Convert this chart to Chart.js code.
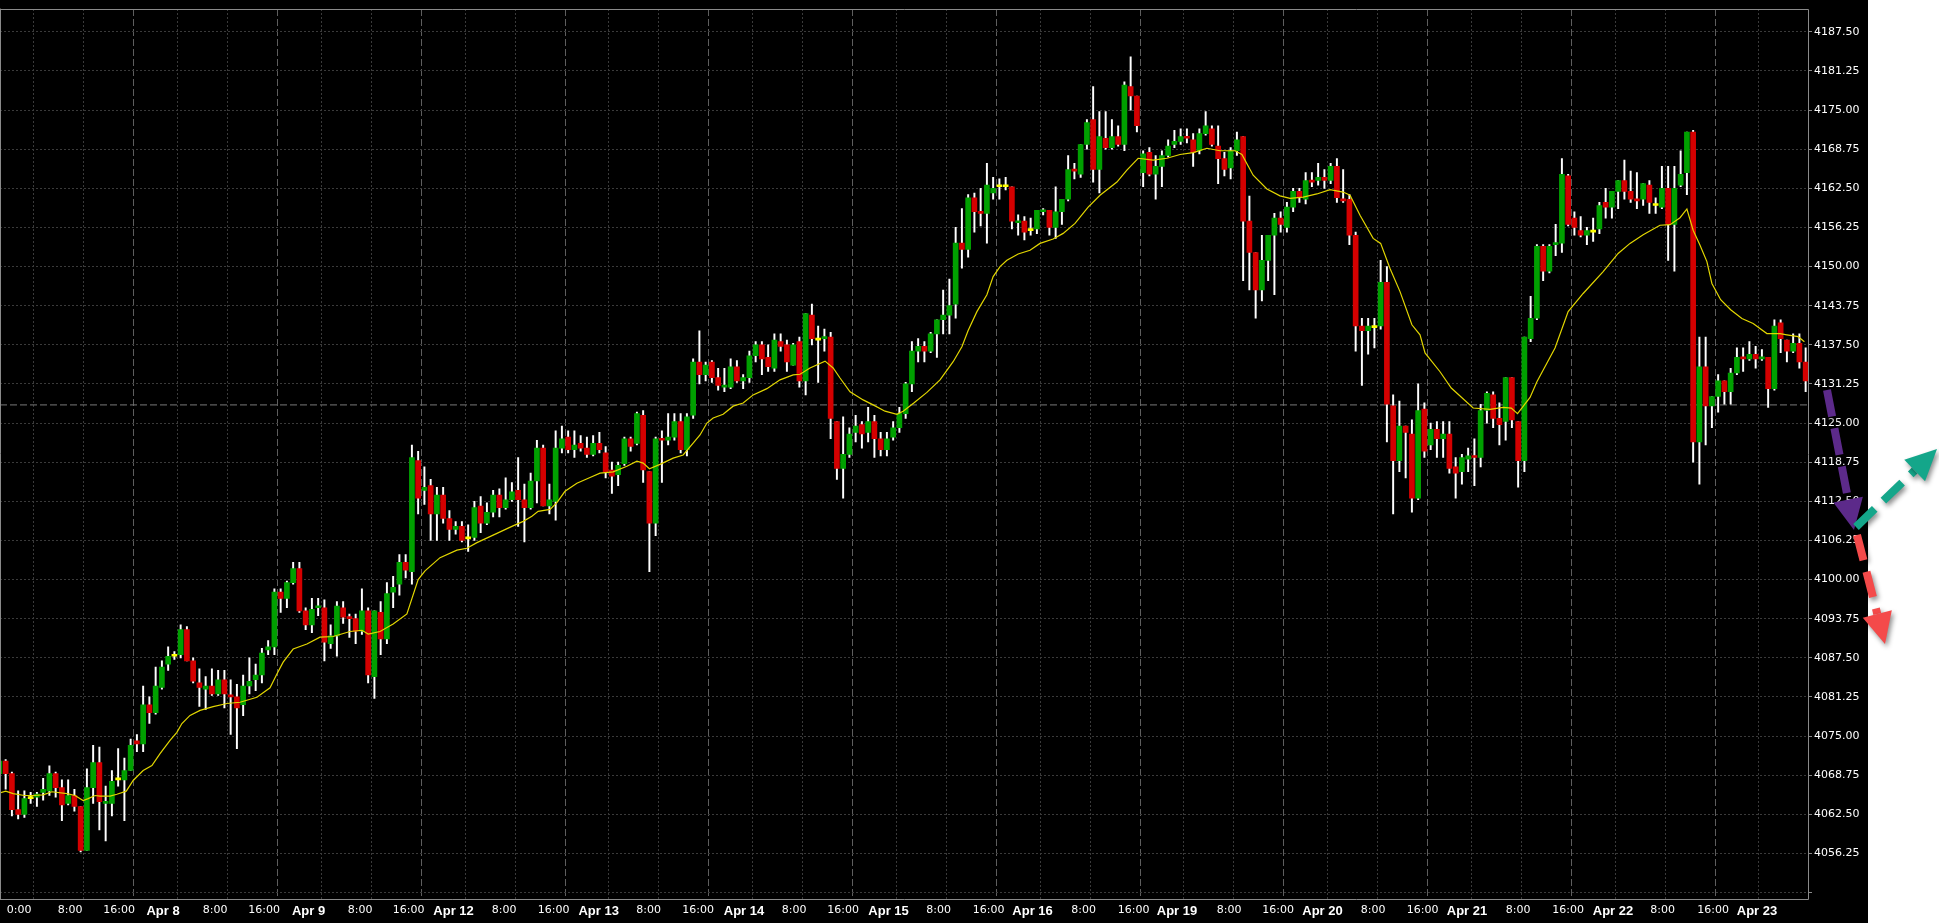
<!DOCTYPE html>
<html>
<head>
<meta charset="utf-8">
<script src="https://cdn.jsdelivr.net/npm/chart.js@4.4.1/dist/chart.umd.min.js"></script>
<style>
  html, body { margin: 0; padding: 0; background: #fff; }
  #wrap { width: 1939px; height: 923px; }
</style>
</head>
<body>
<div id="wrap"><canvas id="chart" width="1939" height="923"></canvas></div>
<script>
// hourly candles, bar 0 = first visible bar on Apr 7
const open = [
  4069.0, 4071.0, 4069.0, 4063.25, 4062.5, 4065.0, 4065.25, 4066.0, 4066.25, 4069.0,
  4066.75, 4064.25, 4065.5, 4063.75, 4056.75, 4066.75, 4070.75, 4064.25, 4064.25, 4068.0,
  4068.0, 4069.5, 4074.25, 4073.75, 4080.0, 4078.75, 4082.75, 4086.5, 4087.75, 4088.0,
  4092.0, 4087.0, 4083.5, 4082.5, 4083.0, 4081.75, 4084.0, 4081.5, 4081.25, 4080.0,
  4083.0, 4084.0, 4084.75, 4088.75, 4089.25, 4098.0, 4097.0, 4099.5, 4101.75, 4095.0,
  4092.75, 4095.5, 4095.5, 4089.75, 4091.0, 4095.5, 4094.0, 4093.75, 4091.75, 4095.0,
  4084.5, 4094.75, 4090.5, 4098.0, 4099.25, 4102.75, 4101.25, 4119.0, 4114.25, 4115.0,
  4110.5, 4113.5, 4109.75, 4108.0, 4108.5, 4106.5, 4106.75, 4111.75, 4109.0, 4110.75,
  4113.5, 4111.5, 4112.75, 4114.25, 4112.75, 4111.5, 4115.75, 4121.0, 4111.75, 4112.5,
  4121.0, 4122.75, 4120.75, 4121.75, 4121.0, 4120.0, 4121.75, 4120.25, 4117.5, 4116.75,
  4118.5, 4122.5, 4121.75, 4126.25, 4117.25, 4109.0, 4122.5, 4122.25, 4122.75, 4125.25,
  4120.75, 4126.25, 4134.75, 4132.75, 4134.75, 4132.25, 4130.75, 4130.75, 4134.0, 4131.75,
  4132.25, 4135.75, 4137.5, 4135.5, 4133.75, 4138.0, 4137.5, 4134.25, 4138.0, 4131.75,
  4142.25, 4138.25, 4138.5, 4138.75, 4125.25, 4117.75, 4120.0, 4123.5, 4124.75, 4123.5,
  4125.25, 4122.5, 4120.75, 4122.75, 4124.25, 4126.5, 4131.25, 4136.5, 4137.25, 4136.5,
  4139.25, 4141.5, 4142.25, 4144.0, 4153.75, 4152.75, 4161.0, 4158.75, 4158.5, 4161.75,
  4162.75, 4162.75, 4162.75, 4157.0, 4157.25, 4155.75, 4156.0, 4158.75, 4159.0, 4156.25,
  4158.75, 4160.75, 4165.5, 4164.75, 4169.5, 4173.5, 4165.5, 4170.5, 4169.0, 4170.75,
  4169.5, 4178.75, 4177.25, 4165.0, 4168.25, 4164.75, 4166.0, 4167.75, 4169.5, 4170.0,
  4170.75, 4170.25, 4168.5, 4171.25, 4172.0, 4169.25, 4167.25, 4165.75, 4168.5, 4170.75,
  4157.25, 4152.25, 4146.25, 4151.0, 4155.0, 4157.75, 4156.25, 4159.5, 4162.0, 4160.75,
  4163.75, 4163.75, 4164.25, 4163.75, 4166.0, 4160.75, 4160.75, 4155.0, 4140.5, 4139.75,
  4140.25, 4140.5, 4147.5, 4127.75, 4119.0, 4124.5, 4123.25, 4113.0, 4127.25, 4121.5,
  4124.0, 4122.5, 4123.25, 4118.0, 4117.25, 4119.25, 4119.75, 4119.5, 4127.0, 4129.5,
  4125.75, 4125.25, 4132.25, 4125.25, 4119.0, 4138.5, 4141.75, 4153.25, 4149.25, 4153.5,
  4153.75, 4164.5, 4157.75, 4155.75, 4155.0, 4155.5, 4156.0, 4160.25, 4159.5, 4162.0,
  4163.75, 4162.0, 4160.75, 4160.75, 4163.0, 4159.75, 4159.5, 4162.5, 4156.75, 4163.0,
  4165.0, 4171.5, 4122.0, 4134.0, 4127.75, 4129.25, 4131.75, 4130.0, 4133.0, 4135.5,
  4135.25, 4136.0, 4135.25, 4135.5, 4130.5, 4141.0, 4138.25, 4136.5, 4137.75, 4134.75
];
const high = [
  4071.25, 4071.25, 4069.25, 4066.25, 4066.25, 4066.0, 4066.0, 4068.25, 4070.25, 4069.25,
  4068.0, 4068.0, 4066.5, 4063.75, 4069.75, 4073.5, 4073.25, 4067.0, 4069.5, 4073.0,
  4071.5, 4074.5, 4075.25, 4083.0, 4081.25, 4086.0, 4087.0, 4089.25, 4088.5, 4092.75,
  4092.5, 4087.5, 4085.75, 4084.5, 4085.75, 4085.5, 4085.5, 4084.0, 4083.25, 4084.75,
  4087.5, 4086.5, 4089.0, 4090.25, 4098.5, 4098.5, 4099.75, 4102.75, 4102.75, 4095.5,
  4097.0, 4097.0, 4096.75, 4092.75, 4096.5, 4096.5, 4094.5, 4094.5, 4098.5, 4095.5,
  4095.0, 4096.5, 4099.5, 4100.5, 4104.0, 4104.0, 4121.5, 4120.5, 4118.0, 4116.0,
  4114.75, 4114.75, 4111.0, 4109.25, 4109.25, 4108.75, 4112.5, 4113.25, 4112.25, 4114.25,
  4114.5, 4116.25, 4115.5, 4119.5, 4115.25, 4117.0, 4122.25, 4121.5, 4115.25, 4123.75,
  4124.5, 4123.75, 4123.75, 4123.0, 4122.75, 4123.0, 4123.5, 4121.25, 4118.75, 4118.75,
  4122.75, 4122.75, 4126.75, 4127.0, 4117.25, 4122.75, 4123.75, 4126.5, 4126.5, 4126.5,
  4126.5, 4135.25, 4139.75, 4134.75, 4135.0, 4133.75, 4133.75, 4135.25, 4135.0, 4132.75,
  4136.5, 4138.0, 4138.0, 4137.5, 4139.25, 4139.25, 4138.25, 4137.75, 4138.75, 4142.5,
  4144.0, 4140.5, 4140.0, 4139.5, 4125.25, 4126.0, 4124.25, 4126.25, 4125.25, 4127.5,
  4126.25, 4123.5, 4123.5, 4125.25, 4127.5, 4131.5, 4138.0, 4138.5, 4138.0, 4139.5,
  4141.5, 4146.25, 4148.0, 4156.25, 4159.25, 4161.5, 4161.75, 4162.5, 4166.5, 4164.25,
  4164.0, 4164.25, 4162.75, 4158.25, 4158.0, 4157.75, 4159.0, 4159.25, 4159.0, 4162.75,
  4160.75, 4167.75, 4166.5, 4169.5, 4173.5, 4178.75, 4174.75, 4174.75, 4173.5, 4172.5,
  4179.5, 4183.5, 4177.25, 4168.5, 4169.0, 4167.75, 4168.5, 4170.25, 4171.75, 4172.0,
  4172.0, 4171.25, 4172.0, 4174.75, 4172.5, 4172.5, 4168.25, 4169.0, 4171.5, 4170.75,
  4161.25, 4152.25, 4155.0, 4155.0, 4158.5, 4158.75, 4160.25, 4162.5, 4162.5, 4165.0,
  4165.0, 4166.5, 4165.5, 4166.5, 4167.25, 4165.5, 4161.5, 4155.5, 4141.75, 4141.75,
  4141.75, 4151.0, 4150.0, 4129.5, 4128.5, 4124.5, 4125.5, 4131.25, 4128.25, 4125.0,
  4125.25, 4125.25, 4125.25, 4119.5, 4120.0, 4121.0, 4122.5, 4128.0, 4130.0, 4130.0,
  4128.25, 4132.25, 4132.25, 4125.25, 4138.75, 4145.25, 4153.5, 4153.5, 4153.5, 4156.75,
  4167.25, 4164.75, 4158.75, 4158.0, 4156.25, 4157.75, 4160.25, 4162.5, 4162.0, 4163.75,
  4167.0, 4165.25, 4165.0, 4163.25, 4163.75, 4161.0, 4166.0, 4166.0, 4166.0, 4168.5,
  4171.5, 4171.75, 4138.75, 4138.75, 4129.25, 4132.75, 4131.75, 4133.75, 4137.0, 4137.0,
  4138.0, 4137.25, 4136.75, 4135.5, 4141.5, 4141.5, 4138.25, 4139.25, 4139.25, 4137.0
];
const low = [
  4067.75, 4066.5, 4062.25, 4061.75, 4062.0, 4064.25, 4063.75, 4064.75, 4065.5, 4065.25,
  4061.5, 4064.0, 4063.0, 4056.5, 4056.75, 4064.25, 4060.0, 4058.25, 4062.25, 4067.0,
  4061.5, 4069.5, 4072.5, 4072.5, 4077.0, 4078.5, 4082.5, 4085.5, 4087.25, 4087.5,
  4087.0, 4083.5, 4079.75, 4079.25, 4081.5, 4081.5, 4079.5, 4075.25, 4073.0, 4078.25,
  4081.75, 4082.25, 4083.5, 4088.0, 4088.0, 4094.75, 4095.5, 4099.25, 4094.75, 4092.0,
  4091.5, 4094.25, 4087.0, 4089.0, 4087.75, 4093.0, 4090.75, 4089.75, 4091.25, 4083.5,
  4081.0, 4088.0, 4089.75, 4095.5, 4097.5, 4100.25, 4099.25, 4110.5, 4112.0, 4106.25,
  4106.25, 4109.0, 4106.25, 4107.25, 4106.0, 4104.5, 4106.25, 4107.5, 4108.75, 4110.0,
  4110.0, 4111.25, 4112.5, 4108.5, 4106.0, 4111.25, 4112.25, 4111.75, 4110.5, 4109.5,
  4120.25, 4120.25, 4119.5, 4120.5, 4119.5, 4119.75, 4120.25, 4116.25, 4113.75, 4115.0,
  4118.25, 4120.5, 4121.5, 4115.5, 4101.25, 4107.0, 4115.5, 4121.5, 4122.25, 4120.25,
  4119.75, 4125.75, 4131.25, 4131.75, 4131.5, 4130.25, 4130.0, 4130.5, 4131.5, 4130.5,
  4131.5, 4134.75, 4132.75, 4133.25, 4133.25, 4136.5, 4133.25, 4134.25, 4130.75, 4129.5,
  4137.5, 4131.5, 4136.5, 4122.5, 4116.0, 4113.0, 4119.5, 4122.0, 4121.0, 4122.0,
  4119.5, 4119.75, 4119.75, 4122.25, 4123.5, 4125.75, 4130.0, 4134.75, 4134.75, 4136.25,
  4135.5, 4139.25, 4139.25, 4141.75, 4149.75, 4151.5, 4155.5, 4156.5, 4153.75, 4160.75,
  4160.75, 4162.25, 4156.0, 4155.0, 4154.25, 4155.0, 4155.25, 4158.25, 4155.0, 4154.5,
  4156.75, 4160.5, 4164.0, 4164.25, 4168.75, 4163.5, 4161.75, 4168.75, 4168.75, 4169.25,
  4168.5, 4175.0, 4171.5, 4162.75, 4164.5, 4160.75, 4162.75, 4167.5, 4169.0, 4169.5,
  4169.75, 4166.0, 4168.0, 4171.0, 4169.25, 4163.25, 4164.5, 4164.0, 4167.75, 4147.75,
  4146.25, 4141.75, 4144.5, 4147.75, 4145.5, 4155.5, 4155.5, 4158.75, 4160.25, 4160.0,
  4162.75, 4163.0, 4162.5, 4163.25, 4160.25, 4160.25, 4153.5, 4136.5, 4131.0, 4136.0,
  4137.0, 4140.0, 4122.0, 4110.5, 4117.25, 4116.25, 4110.75, 4112.75, 4119.5, 4120.75,
  4119.5, 4119.5, 4117.0, 4113.0, 4115.25, 4117.25, 4115.0, 4118.0, 4125.0, 4124.25,
  4121.5, 4122.25, 4124.25, 4114.75, 4117.25, 4138.0, 4141.5, 4147.75, 4149.0, 4151.75,
  4152.25, 4156.5, 4155.0, 4154.75, 4153.5, 4154.0, 4155.25, 4157.75, 4157.75, 4159.25,
  4160.75, 4160.25, 4159.25, 4159.75, 4158.5, 4158.5, 4159.25, 4151.0, 4149.25, 4162.75,
  4161.5, 4118.75, 4115.25, 4121.5, 4124.25, 4126.75, 4128.0, 4128.0, 4132.75, 4133.25,
  4135.0, 4133.75, 4135.0, 4127.5, 4130.25, 4136.25, 4134.75, 4136.25, 4133.75, 4130.0
];
const close = [
  4071.0, 4069.0, 4063.25, 4062.5, 4065.0, 4065.0, 4065.75, 4066.5, 4069.0, 4066.75,
  4064.0, 4065.5, 4063.75, 4056.75, 4066.75, 4070.75, 4064.5, 4064.5, 4067.75, 4068.0,
  4069.5, 4073.5, 4073.75, 4080.0, 4078.75, 4083.0, 4086.0, 4087.75, 4087.75, 4092.0,
  4087.0, 4083.75, 4082.75, 4083.0, 4081.75, 4084.0, 4081.75, 4081.25, 4079.5, 4083.0,
  4083.75, 4084.75, 4088.25, 4089.25, 4098.0, 4097.0, 4099.5, 4101.75, 4095.0, 4092.75,
  4095.25, 4095.75, 4090.0, 4091.0, 4095.75, 4094.0, 4093.75, 4091.75, 4095.0, 4084.75,
  4095.0, 4090.5, 4097.75, 4098.75, 4102.75, 4101.5, 4119.5, 4113.0, 4114.75, 4110.5,
  4113.5, 4109.75, 4108.0, 4108.5, 4106.25, 4106.5, 4111.5, 4109.0, 4110.75, 4113.5,
  4111.5, 4112.75, 4114.0, 4112.75, 4111.5, 4115.75, 4121.0, 4111.75, 4112.75, 4121.0,
  4122.5, 4120.75, 4121.5, 4121.0, 4120.0, 4121.75, 4120.75, 4117.25, 4116.5, 4118.25,
  4122.5, 4121.25, 4126.5, 4117.5, 4109.0, 4122.5, 4122.25, 4122.75, 4125.25, 4120.75,
  4126.0, 4134.75, 4132.75, 4134.25, 4132.25, 4131.0, 4131.0, 4134.0, 4131.75, 4132.25,
  4135.75, 4137.5, 4135.25, 4134.0, 4138.25, 4137.25, 4134.75, 4137.5, 4131.75, 4142.5,
  4138.5, 4138.25, 4138.75, 4125.75, 4117.75, 4120.0, 4123.25, 4124.5, 4123.25, 4125.25,
  4122.5, 4120.75, 4122.5, 4124.25, 4126.5, 4131.25, 4136.5, 4137.25, 4136.5, 4139.25,
  4141.5, 4142.25, 4143.75, 4153.75, 4152.75, 4161.0, 4158.75, 4158.5, 4163.0, 4162.5,
  4162.75, 4162.75, 4157.25, 4157.25, 4155.5, 4155.75, 4159.0, 4159.0, 4156.25, 4158.75,
  4160.75, 4165.5, 4165.25, 4169.5, 4173.0, 4165.5, 4170.75, 4169.0, 4170.75, 4169.5,
  4179.0, 4177.25, 4172.5, 4168.0, 4164.75, 4166.0, 4167.75, 4169.25, 4170.0, 4170.75,
  4170.5, 4168.25, 4171.25, 4172.5, 4169.5, 4167.25, 4165.5, 4168.5, 4170.25, 4157.25,
  4152.25, 4146.25, 4151.0, 4155.0, 4157.75, 4156.75, 4159.5, 4162.0, 4161.0, 4163.75,
  4163.5, 4164.25, 4163.75, 4166.0, 4161.0, 4160.5, 4155.0, 4140.5, 4139.75, 4140.5,
  4140.25, 4147.5, 4128.0, 4119.0, 4124.5, 4123.5, 4113.0, 4127.0, 4120.5, 4124.0,
  4122.5, 4123.25, 4117.75, 4117.0, 4119.5, 4119.75, 4119.5, 4127.0, 4129.75, 4125.75,
  4124.75, 4132.25, 4125.5, 4119.0, 4138.75, 4141.75, 4153.25, 4149.25, 4153.25, 4153.75,
  4164.75, 4156.75, 4156.25, 4155.0, 4155.75, 4155.5, 4159.75, 4159.5, 4162.0, 4163.75,
  4162.0, 4160.75, 4160.5, 4163.25, 4160.25, 4159.75, 4162.5, 4156.75, 4162.5, 4164.75,
  4171.5, 4122.0, 4134.0, 4127.75, 4129.25, 4131.75, 4130.0, 4133.0, 4135.5, 4135.25,
  4136.0, 4135.25, 4135.5, 4130.5, 4140.5, 4138.5, 4136.5, 4137.75, 4134.75, 4131.75
];

// yellow moving average at these bar positions
const maBar = [
  0, 1, 2.2, 4, 5.4, 7, 8.4, 10.8, 12.1, 13.4, 14.2, 15.3, 16.1, 17.7, 18.8, 20.3, 21.4, 23, 24.4, 25.7,
  27.3, 28.4, 29.2, 30.5, 32.1, 34.2, 36.4, 38.5, 41.2, 43.3, 44.4, 45.4, 47, 49.2, 51.3, 53.4, 56.1, 58, 59, 60.9,
  63, 65.2, 67, 68.1, 70.5, 73.2, 74.8, 76.4, 79, 82, 83.8, 85.2, 86.2, 88.1, 89.2, 90.5, 92.4, 94.5, 96.1, 98.2,
  100.4, 102, 103, 104, 105.7, 107.8, 109.4, 111, 112.1, 113.2, 114.2, 115.8, 117.4, 119, 120.6, 122.8, 124.9, 127, 128.1, 129.7,
  132.1, 133.4, 134.5, 136.1, 138.2, 139.8, 141.7, 143.6, 144.6, 146.3, 148.4, 150.5, 152.6, 154, 155, 156.4, 158, 159, 160.1, 161.2,
  163, 164.9, 166.5, 168.6, 170.2, 172.1, 174.2, 176.1, 178.8, 180.4, 182.2, 184.6, 186.8, 188.9, 191, 193.2, 195.3, 197.7, 198.8, 200.6,
  202.8, 204.9, 206.5, 208.6, 210.8, 212.9, 215, 216.1, 217.7, 219.8, 221, 222.5, 224.1, 226, 227.3, 228.1, 230.5, 232.3, 235.8, 238.5,
  240.6, 241.9, 242.9, 244.9, 246, 248.9, 251, 253.4, 256.6, 259, 260.9, 263, 265.7, 267.3, 268.9, 270, 271, 272.1, 273.2, 274,
  275.4, 277, 278.8, 280.6, 282.8, 284.9, 286, 287.8, 288.8
];
const maValue = [
  4065.9, 4066.2, 4065.8, 4065.5, 4065.5, 4065.6, 4066.1, 4065.8, 4065.5, 4064.7, 4065.0, 4065.5, 4065.4, 4065.4, 4065.7, 4066.2, 4067.9, 4069.5, 4070.3, 4072.2,
  4074.3, 4075.6, 4077.0, 4078.3, 4079.1, 4079.7, 4080.2, 4080.4, 4081.2, 4082.7, 4084.9, 4086.8, 4088.9, 4089.7, 4090.8, 4090.9, 4091.7, 4091.9, 4091.3, 4091.7,
  4092.9, 4094.5, 4100.0, 4101.4, 4103.5, 4104.7, 4105.0, 4105.9, 4107.1, 4108.5, 4109.3, 4110.1, 4110.9, 4111.2, 4112.3, 4114.1, 4115.4, 4116.3, 4117.0, 4117.2,
  4118.1, 4118.9, 4118.6, 4117.7, 4118.4, 4119.4, 4119.9, 4121.8, 4123.1, 4125.0, 4125.8, 4126.4, 4127.7, 4128.2, 4129.5, 4130.5, 4131.9, 4132.7, 4132.8, 4133.8,
  4134.9, 4133.8, 4132.2, 4130.0, 4128.7, 4127.9, 4126.9, 4126.4, 4126.9, 4128.2, 4129.9, 4131.9, 4134.8, 4137.2, 4139.8, 4142.8, 4145.5, 4148.4, 4150.0, 4151.0,
  4152.0, 4152.6, 4153.7, 4154.4, 4155.3, 4156.9, 4159.5, 4161.4, 4163.5, 4165.4, 4167.3, 4167.0, 4167.3, 4167.9, 4168.2, 4168.9, 4168.5, 4168.5, 4167.9, 4164.6,
  4162.4, 4161.3, 4160.9, 4161.1, 4161.6, 4162.3, 4161.9, 4161.4, 4158.2, 4154.5, 4153.7, 4149.7, 4146.0, 4140.7, 4139.1, 4136.2, 4133.2, 4130.6, 4127.4, 4127.2,
  4127.5, 4127.4, 4126.5, 4129.1, 4131.6, 4137.0, 4142.8, 4145.7, 4149.2, 4152.1, 4153.7, 4155.1, 4156.6, 4156.7, 4157.8, 4159.2, 4155.8, 4153.4, 4150.8, 4147.3,
  4144.7, 4143.1, 4141.7, 4140.9, 4139.3, 4139.3, 4139.1, 4138.8, 4138.0
];

const lastPrice = 4127.9;

// time axis labels (bar position, text)
const timeTickPos = [
  3.14, 11.3, 19.14, 26.18, 34.5, 42.34, 49.46, 57.7, 65.46, 72.67, 80.74, 88.67,
  95.89, 103.89, 111.78, 119.14, 127.14, 134.98, 142.27, 150.27, 158.26, 165.31, 173.46, 181.49,
  188.42, 196.74, 204.58, 211.7, 219.78, 227.71, 234.82, 242.98, 250.98, 258.18, 266.11, 274.18, 281.22
];
const timeTickLabels = [
  '0:00', '8:00', '16:00', 'Apr 8', '8:00', '16:00', 'Apr 9', '8:00', '16:00', 'Apr 12', '8:00', '16:00',
  'Apr 13', '8:00', '16:00', 'Apr 14', '8:00', '16:00', 'Apr 15', '8:00', '16:00', 'Apr 16', '8:00', '16:00',
  'Apr 19', '8:00', '16:00', 'Apr 20', '8:00', '16:00', 'Apr 21', '8:00', '16:00', 'Apr 22', '8:00', '16:00', 'Apr 23'
];

// vertical grid: day separators and the lighter intraday lines
const daySeparators = [21.5, 44.5, 67.5, 90.5, 113.5, 136.5, 159.5, 182.5, 205.5, 228.5, 251.5, 274.5];
const intradayLines = [
  5.5, 13.5, 28.5, 36.5, 51.5, 59.5, 74.5, 82.5, 97.5, 105.5, 120.5, 128.5, 143.5, 151.5,
  166.5, 174.5, 189.5, 197.5, 212.5, 220.5, 235.5, 243.5, 258.5, 266.5, 281.5
];

const priceTicks = [
  4050, 4056.25, 4062.5, 4068.75, 4075, 4081.25, 4087.5, 4093.75, 4100, 4106.25, 4112.5, 4118.75,
  4125, 4131.25, 4137.5, 4143.75, 4150, 4156.25, 4162.5, 4168.75, 4175, 4181.25, 4187.5
];

const xMin = 0.096, xMax = 289.376;
const yMin = 4048.97, yMax = 4191.21;

const GREEN = '#00a000';
const RED = '#d40000';
const DOJI = '#ffff00';

const bars = open.map((o, i) => i);
const bodies = bars.map(i => ({ x: i, y: [open[i], close[i]] }));
const wicks = bars.map(i => ({ x: i, y: [low[i], high[i]] }));
const bodyColors = bars.map(i => close[i] > open[i] ? GREEN : (close[i] < open[i] ? RED : DOJI));
const maPoints = maBar.map((b, i) => ({ x: b, y: maValue[i] }));

Chart.defaults.font.family = 'DejaVu Sans';
Chart.defaults.font.size = 11;

// black chart panel, white strip on the far right
const background = {
  id: 'background',
  beforeDraw(chart) {
    const c = chart.ctx;
    c.save();
    c.fillStyle = '#ffffff';
    c.fillRect(0, 0, chart.width, chart.height);
    c.fillStyle = '#000000';
    c.fillRect(0, 0, chart.chartArea.right + 60, chart.height);
    c.restore();
  }
};

// grey frame around the plot
const frame = {
  id: 'frame',
  afterDatasetsDraw(chart) {
    const c = chart.ctx;
    const a = chart.chartArea;
    c.save();
    c.strokeStyle = '#8a8a8a';
    c.lineWidth = 1;
    c.beginPath();
    c.moveTo(0, Math.round(a.top) + 0.5);
    c.lineTo(Math.round(a.right) + 0.5, Math.round(a.top) + 0.5);
    c.lineTo(Math.round(a.right) + 0.5, Math.round(a.bottom) + 0.5);
    c.lineTo(0, Math.round(a.bottom) + 0.5);
    c.moveTo(0.5, a.top);
    c.lineTo(0.5, a.bottom);
    c.stroke();
    c.restore();
  }
};

function arrow(c, x1, y1, x2, y2, color, dash) {
  const ang = Math.atan2(y2 - y1, x2 - x1);
  const headLen = 31, headW = 15;
  const bx = x2 - headLen * Math.cos(ang);
  const by = y2 - headLen * Math.sin(ang);
  c.save();
  c.shadowColor = 'rgba(0,0,0,0.45)';
  c.shadowBlur = 5;
  c.shadowOffsetX = 2;
  c.shadowOffsetY = 3;
  c.strokeStyle = color;
  c.lineWidth = 8;
  c.setLineDash(dash);
  c.beginPath();
  c.moveTo(x1, y1);
  c.lineTo(bx, by);
  c.stroke();
  c.setLineDash([]);
  c.fillStyle = color;
  c.beginPath();
  c.moveTo(x2, y2);
  c.lineTo(bx + headW * Math.sin(ang), by - headW * Math.cos(ang));
  c.lineTo(bx - headW * Math.sin(ang), by + headW * Math.cos(ang));
  c.closePath();
  c.fill();
  c.restore();
}

// the three hand drawn arrows at the right edge
const arrows = {
  id: 'arrows',
  afterDraw(chart) {
    const c = chart.ctx;
    const r = chart.chartArea.right;
    arrow(c, r + 19, 390, r + 46, 530, '#5c2a8a', [27, 12]);
    arrow(c, r + 48, 527, r + 129, 449, '#14a68a', [26, 12]);
    arrow(c, r + 49, 535, r + 77, 644, '#f44a4a', [26, 12]);
  }
};

new Chart(document.getElementById('chart'), {
  type: 'bar',
  data: {
    datasets: [
      {
        type: 'line',
        data: maPoints,
        borderColor: '#e2d600',
        borderWidth: 1.2,
        pointRadius: 0,
        tension: 0,
        order: 0
      },
      {
        data: bodies,
        backgroundColor: bodyColors,
        borderWidth: 0,
        barThickness: 5,
        minBarLength: 2,
        grouped: false,
        order: 1
      },
      {
        data: wicks,
        backgroundColor: '#ffffff',
        borderWidth: 0,
        barThickness: 1.3,
        grouped: false,
        order: 2
      },
      {
        type: 'line',
        data: [{ x: xMin, y: lastPrice }, { x: xMax, y: lastPrice }],
        borderColor: '#787878',
        borderWidth: 1,
        borderDash: [7, 3],
        pointRadius: 0,
        order: 3
      }
    ]
  },
  options: {
    responsive: false,
    animation: false,
    devicePixelRatio: 1,
    layout: { padding: { top: 6, left: 0, right: 0, bottom: 0 } },
    plugins: { legend: { display: false }, tooltip: { enabled: false } },
    scales: {
      x: {
        type: 'linear',
        position: 'bottom',
        min: xMin,
        max: xMax,
        offset: false,
        afterBuildTicks: s => { s.ticks = timeTickPos.map(v => ({ value: v })); },
        afterFit: s => { s.height = 24; },
        grid: { display: false, offset: false, drawOnChartArea: false, drawTicks: false },
        border: { display: false },
        ticks: {
          autoSkip: false,
          maxRotation: 0,
          minRotation: 0,
          padding: 5,
          color: '#ffffff',
          callback: (v, i) => timeTickLabels[i],
          font: ctx => (timeTickLabels[ctx.index] || '').startsWith('Apr')
            ? { family: 'Liberation Sans', size: 13, weight: 'bold' }
            : { family: 'DejaVu Sans', size: 11 }
        }
      },
      xDays: {
        type: 'linear',
        position: 'top',
        min: xMin,
        max: xMax,
        offset: false,
        afterBuildTicks: s => { s.ticks = daySeparators.map(v => ({ value: v })); },
        afterFit: s => { s.height = 0; },
        ticks: { display: false },
        grid: { offset: false, drawTicks: false, color: '#5e5e5e', lineWidth: 1 },
        border: { display: false, dash: [7, 3] }
      },
      xHours: {
        type: 'linear',
        position: 'top',
        min: xMin,
        max: xMax,
        offset: false,
        afterBuildTicks: s => { s.ticks = intradayLines.map(v => ({ value: v })); },
        afterFit: s => { s.height = 0; },
        ticks: { display: false },
        grid: { offset: false, drawTicks: false, color: '#3a3a3a', lineWidth: 1 },
        border: { display: false, dash: [2, 2] }
      },
      y: {
        type: 'linear',
        position: 'right',
        min: yMin,
        max: yMax,
        beginAtZero: false,
        afterBuildTicks: s => { s.ticks = priceTicks.map(v => ({ value: v })); },
        afterFit: s => { s.width = 131; },
        grid: { color: '#3a3a3a', lineWidth: 1, drawTicks: true, tickLength: 4, tickColor: '#8a8a8a', tickWidth: 1 },
        border: { display: false, dash: [2, 2] },
        ticks: {
          color: '#ffffff',
          padding: 2,
          font: { family: 'DejaVu Sans', size: 11 },
          callback: v => v === 4050 ? '' : v.toFixed(2)
        }
      }
    }
  },
  plugins: [background, frame, arrows]
});
</script>
</body>
</html>
